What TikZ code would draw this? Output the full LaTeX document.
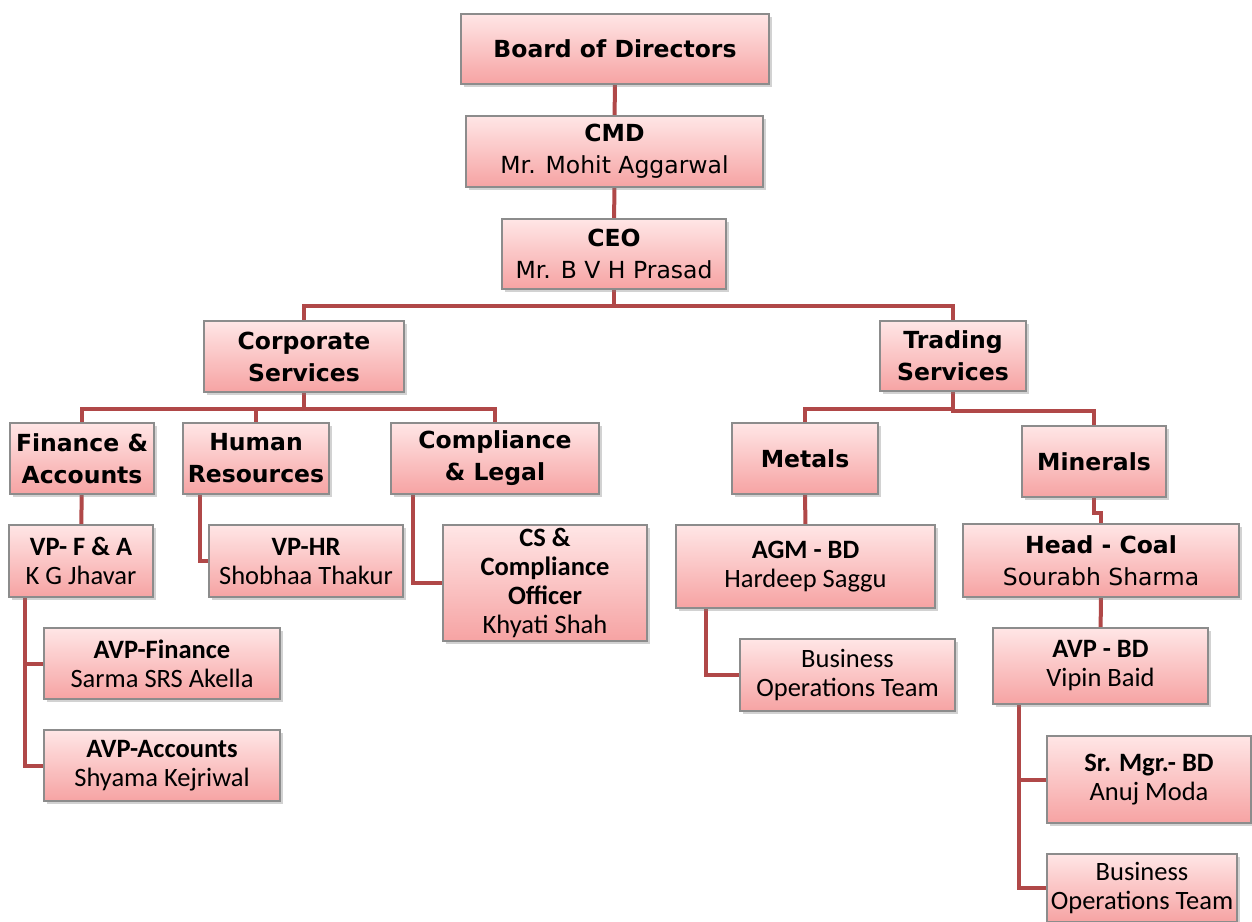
\documentclass[tikz,border=0pt]{standalone}
\usepackage{fontspec}
\setmainfont{DejaVu Sans}
\newfontfamily\califont{Carlito}
\usepackage{xcolor}
\usepackage{tikz}
\usetikzlibrary{positioning,calc,shadows,backgrounds}
\definecolor{boxtop}{HTML}{FFE6E6}
\definecolor{boxbot}{HTML}{F6A3A3}
\definecolor{boxline}{HTML}{8C8C8C}
\definecolor{linkcol}{HTML}{B04848}
\definecolor{textcol}{HTML}{000000}

\newcommand{\bigtxt}{\fontsize{23.5}{32}\selectfont}
\newcommand{\smalltxt}{\califont\fontsize{26.5}{29}\selectfont}

\begin{document}
\begin{tikzpicture}[x=1pt,y=-1pt,
    orgbox/.style={draw=boxline,line width=1.1pt,top color=boxtop,bottom color=boxbot,
        drop shadow={shadow xshift=3pt,shadow yshift=-3pt,opacity=0.35},
        inner sep=0pt,align=center,text=textcol},
    bigbox/.style={orgbox,font=\bigtxt},
    smallbox/.style={orgbox,font=\smalltxt},
    link/.style={draw=linkcol,line width=4pt}
]
\useasboundingbox (0,0) rectangle (1252,921);
\clip (0,0) rectangle (1252,921);
% top of the chart
\node[bigbox,minimum width=308,minimum height=70] (board) at (615,49) {\textbf{Board of Directors}};
\node[bigbox,minimum width=297,minimum height=71] (cmd) at (614.5,151.5) {\textbf{CMD}\\Mr. Mohit Aggarwal};
\node[bigbox,minimum width=224,minimum height=70] (ceo) at (614,254) {\textbf{CEO}\\Mr. B V H Prasad};
\node[bigbox,minimum width=200,minimum height=71] (corp) at (304,356.5) {\textbf{Corporate}\\\textbf{Services}};
\node[bigbox,minimum width=146,minimum height=70] (trade) at (953,356) {\textbf{Trading}\\\textbf{Services}};
% corporate side
\node[bigbox,minimum width=144,minimum height=71] (fa) at (82,458.5) {\textbf{Finance \&}\\\textbf{Accounts}};
\node[bigbox,minimum width=146,minimum height=71] (hr) at (256,458.5) {\textbf{Human}\\\textbf{Resources}};
\node[bigbox,minimum width=208,minimum height=71] (cl) at (495,458.5) {\textbf{Compliance}\\\textbf{\& Legal}};
\node[smallbox,minimum width=144,minimum height=72] (vpfa) at (81,561) {\textbf{VP- F \& A}\\K G Jhavar};
\node[smallbox,minimum width=194,minimum height=72] (vphr) at (306,561) {\textbf{VP-HR}\\Shobhaa Thakur};
\node[smallbox,minimum width=204,minimum height=116] (cso) at (545,583) {\textbf{CS \&}\\\textbf{Compliance}\\\textbf{Officer}\\Khyati Shah};
\node[smallbox,minimum width=236,minimum height=71] (avpf) at (162,663.5) {\textbf{AVP-Finance}\\Sarma SRS Akella};
\node[smallbox,minimum width=236,minimum height=71] (avpa) at (162,765.5) {\textbf{AVP-Accounts}\\Shyama Kejriwal};
% trading side
\node[bigbox,minimum width=146,minimum height=71] (metals) at (805,458.5) {\textbf{Metals}};
\node[bigbox,minimum width=144,minimum height=71] (minerals) at (1094,461.5) {\textbf{Minerals}};
\node[smallbox,minimum width=259,minimum height=83] (agm) at (805.5,566.5) {\textbf{AGM - BD}\\Hardeep Saggu};
\node[smallbox,minimum width=215,minimum height=72] (bopsA) at (847.5,675) {Business\\Operations Team};
\node[bigbox,minimum width=276,minimum height=73] (coal) at (1101,560.5) {\textbf{Head - Coal}\\Sourabh Sharma};
\node[smallbox,minimum width=215,minimum height=76] (avpbd) at (1100.5,666) {\textbf{AVP - BD}\\Vipin Baid};
\node[smallbox,minimum width=204,minimum height=87] (srmgr) at (1149,779.5) {\textbf{Sr. Mgr.- BD}\\Anuj Moda};
\node[smallbox,minimum width=190,minimum height=68] (bopsB) at (1142,888) {Business\\Operations Team};
% connectors, behind the boxes
\begin{pgfonlayer}{background}
\fill[white] (0,0) rectangle (1252,921);
\draw[link] (board) -- (cmd);
\draw[link] (cmd) -- (ceo);
\draw[link] (ceo.south) -- ++(0,16) -| (corp.north);
\draw[link] (ceo.south) -- ++(0,16) -| (trade.north);
\draw[link] (corp.south) -- ++(0,16) -| (fa.north);
\draw[link] (corp.south) -- ++(0,16) -| (hr.north);
\draw[link] (corp.south) -- ++(0,16) -| (cl.north);
\draw[link] (fa) -- (vpfa);
\draw[link] ([xshift=-56]hr.south) |- (vphr.west);
\draw[link] ([xshift=-82]cl.south) |- (cso.west);
\draw[link] ([xshift=-56]vpfa.south) |- (avpf.west);
\draw[link] ([xshift=-56]vpfa.south) |- (avpa.west);
\draw[link] (trade.south) -- ++(0,17) -| (metals.north);
\draw[link] (trade.south) -- ++(0,19) -| (minerals.north);
\draw[link] (metals) -- (agm);
\draw[link] ([xshift=-100]agm.south) |- (bopsA.west);
\draw[link] (minerals.south) -- ++(0,15) -| (coal.north);
\draw[link] (coal) -- (avpbd);
\draw[link] ([xshift=-82]avpbd.south) |- (srmgr.west);
\draw[link] ([xshift=-82]avpbd.south) |- (bopsB.west);
\end{pgfonlayer}
\end{tikzpicture}
\end{document}
